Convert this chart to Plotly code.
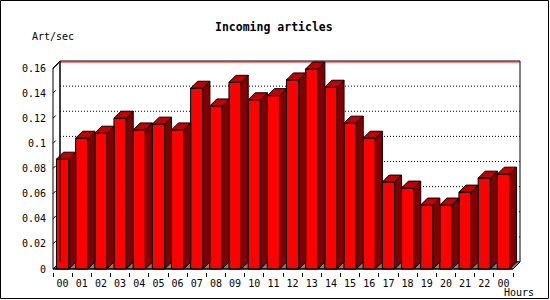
import plotly.graph_objects as go

# ---------------- data ----------------
hours = ["00", "01", "02", "03", "04", "05", "06", "07", "08", "09", "10", "11",
         "12", "13", "14", "15", "16", "17", "18", "19", "20", "21", "22", "00"]
rate = [0.0874, 0.1041, 0.1081, 0.1200, 0.1107, 0.1153, 0.1107, 0.1439,
        0.1298, 0.1486, 0.1347, 0.1380, 0.1505, 0.1592, 0.1447, 0.1161,
        0.1041, 0.0692, 0.0644, 0.0509, 0.0509, 0.0612, 0.0723, 0.0755]
y_ticks = [0, 0.02, 0.04, 0.06, 0.08, 0.10, 0.12, 0.14, 0.16]
y_tick_labels = ["0", "0.02", "0.04", "0.06", "0.08", "0.1", "0.12", "0.14", "0.16"]
title_text = "Incoming articles"
y_title = "Art/sec"
x_title = "Hours"

# ---------------- geometry / style ----------------
FIG_W, FIG_H = 550, 300
M_L, M_R, M_T, M_B = 50, 27, 58, 28
PLOT_W = FIG_W - M_L - M_R
PLOT_H = FIG_H - M_T - M_B
PAD = 3          # px between plot edge and front axes
DEPTH = 7        # 3d depth in px
FRONT_W = PLOT_W - 2 * PAD - DEPTH
FRONT_H = PLOT_H - 2 * PAD - DEPTH
Y_TOP = 0.16
BAR_W = 0.64

FRONT = "#ff0000"
SIDE = "#800000"
TOP = "#c00000"
FLOOR = "#808080"
MONO = "DejaVu Sans Mono"

n = len(hours)
cw = FRONT_W / n              # px per category
ch = FRONT_H / Y_TOP          # px per unit
x0 = -0.5
x_front = n - 0.5
dx = DEPTH / cw
dy = DEPTH / ch
x_range = [x0 - PAD / cw, x0 + (PLOT_W - PAD) / cw]
y_range = [-PAD / ch, (PLOT_H - PAD) / ch]
vmax = max(rate)


def px_x(px):
    return (px - M_L) / PLOT_W


def px_y(py):
    return (FIG_H - M_B - py) / PLOT_H


fig = go.Figure()

# side and top faces
sx, sy = [], []
tx, ty = [], []
for i, v in enumerate(rate):
    xl = i - BAR_W / 2
    xr = i + BAR_W / 2
    sx += [xr, xr, xr + dx, xr + dx, xr, None]
    sy += [0, v, v + dy, dy, 0, None]
    tx += [xl, xr, xr + dx, xl + dx, xl, None]
    ty += [v, v, v + dy, v + dy, v, None]

fig.add_trace(go.Bar(x=list(range(n)), y=rate, width=BAR_W,
                     marker=dict(color=FRONT, line=dict(color="black", width=1)),
                     hoverinfo="skip"))
fig.add_trace(go.Scatter(x=sx, y=sy, mode="lines", fill="toself", fillcolor=SIDE,
                         line=dict(color="black", width=1), hoverinfo="skip"))
fig.add_trace(go.Scatter(x=tx, y=ty, mode="lines", fill="toself", fillcolor=TOP,
                         line=dict(color="black", width=1), hoverinfo="skip"))

shapes = []
# back plane
shapes.append(dict(type="rect", xref="x", yref="y", layer="below",
                   x0=x0 + dx, y0=dy, x1=x_front + dx, y1=Y_TOP + dy,
                   fillcolor="white", line=dict(color="black", width=1)))
# dotted grid on back plane
for v in y_ticks[1:-1]:
    shapes.append(dict(type="line", xref="x", yref="y", layer="below",
                       x0=x0 + dx, y0=v + dy, x1=x_front + dx, y1=v + dy,
                       line=dict(color="black", width=1, dash="1px,2px")))
# floor
shapes.append(dict(type="path", xref="x", yref="y", layer="below",
                   path=f"M {x0},0 L {x0+dx},{dy} L {x_front+dx},{dy} L {x_front},0 Z",
                   fillcolor=FLOOR, line=dict(color="black", width=1)))
# red max line
shapes.append(dict(type="path", xref="x", yref="y", layer="below",
                   path=f"M {x0},{vmax} L {x0+dx},{vmax+dy} L {x_front+dx},{vmax+dy}",
                   line=dict(color="red", width=1)))
# left wall / axes
shapes.append(dict(type="path", xref="x", yref="y", layer="above",
                   path=f"M {x0},0 L {x0},{Y_TOP} L {x0+dx},{Y_TOP+dy} L {x0+dx},{dy}",
                   line=dict(color="black", width=1)))
shapes.append(dict(type="path", xref="x", yref="y", layer="above",
                   path=f"M {x0},0 L {x_front},0 L {x_front+dx},{dy}",
                   line=dict(color="black", width=1)))
# y tick marks (short diagonals)
for v in y_ticks:
    shapes.append(dict(type="line", xref="x", yref="y", layer="above",
                       x0=x0, y0=v, x1=x0 + dx * 0.4, y1=v + dy * 0.4,
                       line=dict(color="black", width=1)))
# image frame
shapes.append(dict(type="rect", xref="paper", yref="paper", layer="above",
                   x0=px_x(0.5), y0=px_y(298.5), x1=px_x(548.5), y1=px_y(0.5),
                   line=dict(color="black", width=1), fillcolor="rgba(0,0,0,0)"))

annotations = [
    dict(text=title_text, xref="paper", yref="paper", x=px_x(274), y=px_y(27),
         xanchor="center", yanchor="middle", showarrow=False,
         font=dict(family=MONO, size=11.5, color="black", weight="bold")),
    dict(text=y_title, xref="paper", yref="paper", x=px_x(30), y=px_y(37),
         xanchor="left", yanchor="middle", showarrow=False,
         font=dict(family=MONO, size=10, color="black")),
    dict(text=x_title, xref="paper", yref="paper", x=px_x(519), y=px_y(292),
         xanchor="center", yanchor="middle", showarrow=False,
         font=dict(family=MONO, size=10, color="black")),
]

fig.update_layout(
    width=FIG_W, height=FIG_H,
    margin=dict(l=M_L, r=M_R, t=M_T, b=M_B, pad=0),
    paper_bgcolor="white", plot_bgcolor="white",
    showlegend=False, hovermode=False,
    shapes=shapes, annotations=annotations,
    font=dict(family=MONO, size=10, color="black"),
    xaxis=dict(range=x_range, tickmode="array", tickvals=list(range(n)),
               ticktext=hours, ticks="", showgrid=False, zeroline=False,
               showline=False, ticklabelstandoff=4,
               minor=dict(tickmode="array",
                          tickvals=[i - 0.5 for i in range(n + 1)],
                          ticks="outside", ticklen=4, tickcolor="black",
                          tickwidth=1, showgrid=False),
               tickfont=dict(family=MONO, size=10, color="black")),
    yaxis=dict(range=y_range, tickmode="array", tickvals=y_ticks,
               ticktext=y_tick_labels, ticks="", showgrid=False, zeroline=False,
               showline=False, ticklabelstandoff=3,
               tickfont=dict(family=MONO, size=10, color="black")),
)

fig.write_html("out.html", config=dict(displayModeBar=False))
